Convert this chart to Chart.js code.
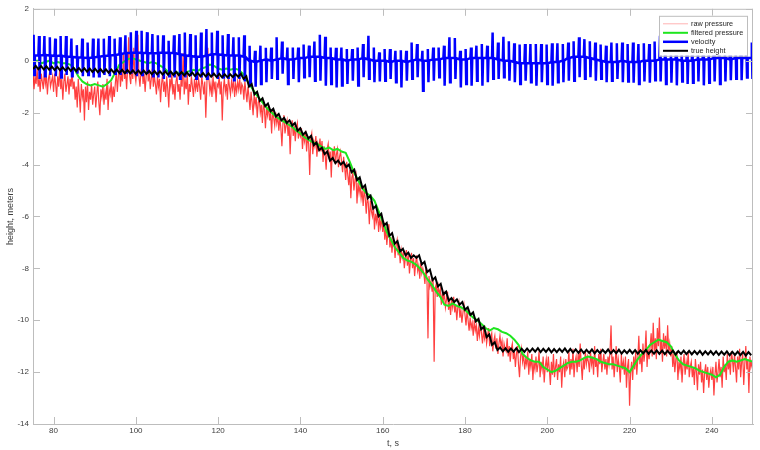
<!DOCTYPE html>
<html>
<head>
<meta charset="utf-8">
<script src="https://cdn.jsdelivr.net/npm/chart.js@4.4.0/dist/chart.umd.min.js"></script>
<style>
  html, body { margin: 0; padding: 0; background: #fff; }
</style>
</head>
<body>
<canvas id="heightChart" width="760" height="450"></canvas>
<script>
// time grid (seconds)
const T0 = 75;
const RAW_STEP = 0.25;     // raw pressure sample spacing
const FILT_STEP = 1;       // filtered pressure sample spacing
const CYCLE = 1.3125;      // ripple period of velocity / true height

const xTicks = [80, 100, 120, 140, 160, 180, 200, 220, 240];
const yTicks = [-14, -12, -10, -8, -6, -4, -2, 0, 2];

// raw pressure, t = 75, 75.25, 75.5 ... 250 (one row = 5 s)
const rawPressure = [
  -0.4, -1.1, -0.6, -0.9, -0.3, -1.0, -0.7, -1.2, -0.5, -0.8, -1.1, -0.4, -0.9, -0.6, -1.3, -0.7, -0.5, -1.0, -0.8, -0.6,
  -1.2, -0.5, -0.9, -1.4, -0.6, -1.0, -0.3, -1.1, -0.7, -1.5, -0.8, -0.5, -1.2, -0.9, -0.6, -1.3, -0.7, -1.0, -0.4, -1.1,
  -0.8, -1.5, -1.0, -1.8, -0.7, -1.3, -2.0, -0.9, -1.4, -1.1, -2.3, -1.0, -1.6, -0.8, -1.9, -1.2, -1.5, -0.9, -1.7, -1.3,
  -1.0, -1.8, -1.3, -0.8, -1.6, -2.1, -1.1, -1.4, -0.9, -1.7, -1.2, -1.5, -0.7, -1.9, -1.1, -1.3, -0.8, -1.6, -1.0, -1.4,
  -0.9, -0.4, -1.2, -0.6, -0.2, -1.0, -0.5, -0.8, 0.3, -0.7, -0.4, -1.1, -0.3, 0.9, -0.6, -0.9, -0.2, -0.7, 0.5, -0.5,
  -0.8, -0.3, 1.0, -0.6, -1.0, -0.4, -0.2, -0.9, -0.5, -1.2, -0.6, 0.4, -0.8, -0.4, -1.1, -0.7, -0.3, -1.0, -0.6, -0.9,
  -1.3, -0.6, -1.0, -0.7, -1.6, -0.9, -0.5, -1.2, -0.8, -1.4, -0.6, -1.1, -1.8, -0.7, -1.0, -0.5, -1.3, -0.9, -1.5, -0.8,
  -0.6, -1.2, -0.9, -1.5, -0.7, -1.0, 0.3, -1.3, -0.8, -1.1, -0.5, -1.7, -0.9, -1.2, -0.6, -1.0, -1.4, -0.7, -1.1, -0.8,
  -1.2, -0.7, -1.0, -1.5, -0.6, -0.9, -1.3, -0.8, -2.2, -1.0, 0.5, -0.7, -1.2, -0.9, -1.4, -0.6, -1.1, -0.8, -1.6, -0.9,
  -1.0, -0.6, -1.3, -0.8, -2.3, -1.1, -0.7, -1.2, -0.9, -1.5, -0.6, -1.0, -1.3, -0.8, -1.1, -0.7, -1.4, -0.9, -1.2, -0.8,
  -1.1, -0.7, -1.3, -0.9, -1.0, -1.5, -0.8, -1.2, -1.6, -1.0, -1.4, -1.9, -1.2, -1.6, -2.1, -1.3, -1.7, -1.4, -2.2, -1.6,
  -1.5, -2.0, -1.7, -2.4, -1.6, -1.9, -2.6, -1.8, -2.1, -1.7, -2.3, -2.0, -2.8, -1.9, -2.2, -2.5, -2.0, -2.4, -2.1, -2.7,
  -2.2, -2.6, -3.3, -2.4, -2.1, -2.8, -2.5, -2.3, -2.9, -2.4, -3.6, -2.6, -2.3, -2.9, -2.5, -3.1, -2.6, -2.4, -3.0, -2.7,
  -2.9, -2.6, -3.4, -2.8, -3.1, -2.7, -3.5, -2.9, -3.2, -4.4, -3.0, -2.8, -3.6, -3.1, -3.3, -2.9, -3.7, -3.2, -3.4, -3.0,
  -3.5, -3.1, -3.9, -3.3, -3.6, -4.2, -3.4, -3.2, -3.8, -3.5, -4.5, -3.4, -3.7, -3.3, -4.0, -3.6, -3.4, -4.1, -3.7, -3.5,
  -3.9, -4.3, -3.7, -4.1, -4.6, -3.9, -4.4, -4.8, -4.2, -5.3, -4.5, -4.3, -5.0, -4.6, -4.4, -5.5, -4.7, -5.1, -4.8, -5.3,
  -5.0, -5.6, -4.9, -5.3, -5.9, -5.2, -5.5, -6.3, -5.4, -5.8, -6.0, -5.6, -6.5, -5.9, -6.2, -5.8, -6.6, -6.1, -6.4, -6.0,
  -6.6, -6.2, -6.9, -6.4, -7.1, -6.6, -6.3, -7.2, -6.8, -7.4, -6.9, -7.0, -7.6, -7.1, -6.9, -7.5, -7.2, -7.8, -7.3, -7.6,
  -7.4, -8.0, -7.6, -7.3, -7.9, -7.5, -8.2, -7.7, -7.4, -8.0, -7.6, -8.3, -7.8, -7.5, -8.1, -7.9, -8.4, -7.8, -8.2, -8.0,
  -8.2, -8.6, -8.0, -8.4, -10.7, -8.3, -8.7, -8.5, -8.9, -8.4, -11.6, -8.8, -8.6, -9.1, -8.7, -9.0, -8.8, -9.4, -9.0, -9.2,
  -9.0, -9.5, -9.2, -8.9, -9.6, -9.3, -9.8, -9.2, -9.5, -9.1, -9.7, -9.4, -10.0, -9.5, -9.3, -9.9, -9.6, -10.1, -9.7, -9.4,
  -9.8, -10.2, -9.6, -10.0, -10.4, -9.9, -10.3, -10.1, -10.6, -10.0, -10.4, -10.2, -10.8, -10.3, -10.6, -10.1, -10.5, -10.9, -10.4, -10.7,
  -10.4, -10.9, -10.6, -10.3, -11.0, -10.7, -10.5, -11.2, -10.8, -10.6, -11.1, -10.7, -11.3, -10.9, -10.6, -11.0, -10.8, -11.4, -10.9, -11.1,
  -11.2, -10.7, -11.4, -11.0, -11.6, -11.1, -10.9, -11.5, -11.2, -11.8, -11.3, -11.0, -11.7, -12.2, -11.4, -11.1, -11.6, -11.3, -11.9, -11.5,
  -11.7, -11.2, -12.1, -11.5, -11.8, -11.3, -12.3, -11.6, -11.9, -11.4, -12.0, -11.7, -11.2, -12.2, -11.6, -11.9, -11.4, -12.4, -11.8, -11.5,
  -12.0, -11.4, -11.9, -12.5, -11.6, -12.1, -11.3, -12.2, -11.8, -11.5, -12.3, -11.7, -12.0, -11.4, -12.6, -11.8, -11.6, -12.2, -11.5, -11.9,
  -11.8, -11.2, -12.1, -11.5, -11.9, -11.1, -12.2, -11.6, -11.4, -12.0, -11.3, -11.8, -10.9, -11.7, -12.3, -11.5, -11.9, -11.2, -11.7, -11.4,
  -11.6, -12.0, -11.2, -11.7, -11.4, -12.1, -11.0, -11.8, -11.5, -12.2, -11.3, -11.7, -11.1, -12.0, -11.6, -11.3, -11.9, -11.5, -12.1, -11.4,
  -11.7, -11.2, -10.2, -11.9, -11.4, -12.2, -11.6, -11.0, -12.0, -11.5, -11.8, -12.4, -11.3, -11.9, -11.6, -12.1, -11.4, -12.6, -11.8, -11.5,
  -13.3, -12.0, -11.6, -12.3, -11.4, -11.9, -11.2, -12.1, -11.5, -10.6, -11.7, -11.3, -12.0, -10.9, -11.6, -11.2, -10.4, -11.8, -11.1, -11.5,
  -11.0, -10.5, -11.4, -10.1, -11.2, -10.7, -11.5, -10.3, -11.0, -9.9, -11.3, -10.8, -11.6, -10.5, -11.1, -10.6, -11.4, -10.2, -11.2, -10.9,
  -11.4, -11.0, -11.8, -11.3, -12.0, -11.5, -11.2, -12.3, -11.6, -11.9, -11.4, -12.4, -11.7, -11.3, -12.1, -11.6, -11.9, -11.2, -12.2, -11.8,
  -11.6, -12.2, -11.8, -12.5, -11.5, -12.0, -12.7, -11.7, -12.1, -11.6, -12.4, -11.9, -12.8, -12.0, -11.7, -12.3, -11.8, -12.6, -12.1, -11.9,
  -12.3, -11.8, -12.9, -12.1, -11.6, -12.4, -12.0, -11.5, -12.2, -11.8, -12.6, -11.4, -12.0, -11.7, -12.3, -11.3, -11.9, -11.6, -12.1, -11.2,
  -11.5, -12.0, -11.3, -11.8, -12.4, -11.4, -11.9, -11.1, -12.2, -11.6, -11.3, -12.5, -11.7, -11.0, -11.9, -11.5, -12.8, -11.4, -11.8, -11.6,
  -12.0
];

// filtered pressure, t = 75, 76 ... 250
const filteredPressure = [
  -0.05, 0.0, -0.1, -0.05, 0.0, -0.1, -0.05, -0.1, -0.1, -0.15,
  -0.3, -0.6, -0.8, -0.9, -0.95, -0.9, -0.95, -1.0, -0.9, -0.75,
  -0.45, -0.15, -0.05, 0.05, 0.1, 0.05, 0.0, -0.05, -0.1, -0.05,
  -0.1, -0.2, -0.3, -0.45, -0.5, -0.45, -0.5, -0.45, -0.4, -0.35,
  -0.4, -0.3, -0.25, -0.15, -0.2, -0.3, -0.35, -0.3, -0.35, -0.3,
  -0.35, -0.5, -0.75, -1.0, -1.25, -1.45, -1.65, -1.85, -2.0, -2.15,
  -2.25, -2.35, -2.45, -2.55, -2.7, -2.8, -2.95, -3.05, -3.15, -3.2,
  -3.3, -3.4, -3.35, -3.45, -3.4, -3.5, -3.55, -3.9, -4.3, -4.6,
  -4.9, -5.1, -5.2, -5.4, -5.8, -6.2, -6.6, -6.9, -7.2, -7.4,
  -7.6, -7.7, -7.75, -7.85, -8.0, -8.2, -8.45, -8.65, -8.9, -9.1,
  -9.4, -9.45, -9.35, -9.45, -9.5, -9.6, -9.75, -9.9, -10.0, -10.15,
  -10.3, -10.4, -10.3, -10.35, -10.45, -10.5, -10.6, -10.75, -10.95, -11.3,
  -11.45, -11.55, -11.6, -11.6, -11.8, -11.9, -12.0, -11.95, -11.85, -11.75,
  -11.65, -11.6, -11.6, -11.55, -11.45, -11.4, -11.45, -11.5, -11.6, -11.65,
  -11.7, -11.7, -11.75, -11.8, -11.85, -12.0, -11.75, -11.5, -11.3, -11.15,
  -10.95, -10.85, -10.75, -10.8, -10.85, -11.0, -11.3, -11.55, -11.7, -11.75,
  -11.8, -11.85, -11.95, -12.0, -12.05, -12.1, -12.2, -12.1, -11.8, -11.6,
  -11.55, -11.6, -11.55, -11.5, -11.55, -11.6
];

// velocity, one entry per ripple cycle: resting level, upper spike, lower spike
const velBase = [
  0.2, 0.2, 0.22, 0.2, 0.18, 0.2, 0.15, 0.15, 0.12, 0.12, 0.1,
  0.12, 0.15, 0.18, 0.2, 0.22, 0.25,
  0.3, 0.3, 0.32, 0.3, 0.3, 0.28, 0.3, 0.32, 0.3, 0.3, 0.25, 0.2, 0.18, 0.15, 0.15, 0.2, 0.25,
  0.25, 0.22, 0.2, 0.2, 0.2, 0.15,
  0.0, -0.05, 0.0, 0.05, 0.0, 0.05, 0.1, 0.05, 0.05, 0.1, 0.1, 0.15, 0.15, 0.15, 0.1, 0.1, 0.05, 0.05, 0.0, 0.05, 0.05, 0.1, 0.05, 0.0, 0.0,
  0.0, -0.05, 0.0, 0.0, -0.05, 0.0, 0.05, 0.0, 0.0, 0.05, 0.05, 0.1, 0.1, 0.1, 0.05, 0.05, 0.1, 0.1, 0.1, 0.1, 0.1,
  0.05, 0.0, 0.0, -0.05, -0.1, -0.1, -0.1, -0.1, -0.1, -0.1, -0.05, -0.05, 0.0, 0.1, 0.15, 0.15, 0.15, 0.1, 0.05, 0.0, -0.05, -0.05, -0.05, 0.0,
  -0.05, -0.05, -0.05, 0.0, 0.0, 0.0, 0.05, 0.05, 0.05, 0.05, 0.0, 0.0, 0.0, 0.05, 0.05, 0.05, 0.1, 0.1, 0.1, 0.05, 0.1, 0.1, 0.1, 0.1
];
const velPeak = [
  1.0, 0.95, 0.95, 0.9, 0.85, 0.95, 0.95, 0.85, 0.6, 0.85, 0.7, 0.85, 0.85, 0.85, 0.95, 0.85, 0.9, 0.98, 1.1, 1.15, 1.15, 1.1,
  1.03, 0.98, 0.98, 0.77, 0.98, 1.03, 1.09, 1.03, 0.98, 1.09, 1.22, 1.09, 1.15, 0.98, 1.03, 0.9, 0.9, 0.98, 0.58, 0.38, 0.58,
  0.5, 0.51, 0.9, 0.74, 0.51, 0.51, 0.51, 0.62, 0.58, 0.74, 1.0, 0.92, 0.51, 0.5, 0.51, 0.45, 0.45, 0.51, 0.64, 0.96, 0.51, 0.32,
  0.45, 0.45, 0.38, 0.4, 0.38, 0.7, 0.64, 0.38, 0.45, 0.51, 0.51, 0.58, 0.9, 0.87, 0.38, 0.45, 0.51, 0.58, 0.64, 0.58, 1.09,
  0.7, 0.92, 0.75, 0.67, 0.62, 0.64, 0.64, 0.64, 0.64, 0.62, 0.67, 0.67, 0.64, 0.7, 0.75, 0.9, 0.83, 0.75, 0.7, 0.62, 0.58, 0.7, 0.67, 0.7,
  0.64, 0.7, 0.64, 0.67, 0.64, 0.74, 0.96, 0.7, 0.65, 0.72, 0.6, 0.68, 0.7, 0.62, 0.66, 0.7, 0.64, 0.6, 0.68, 0.62, 0.66, 0.95, 0.5, 0.7
];
const velTrough = [
  -0.55, -0.7, -0.6, -0.55, -0.6, -0.65, -0.55, -0.6, -0.5, -0.6, -0.55, -0.65, -0.6, -0.55, -0.6, -0.5, -0.55, -0.45, -0.5, -0.6, -0.55, -0.5,
  -0.6, -0.65, -0.7, -0.6, -0.65, -0.7, -0.65, -0.6, -0.7, -0.65, -0.7, -0.6, -0.7, -0.65, -0.7, -0.75, -0.7, -0.8,
  -0.95, -1.0, -0.9,
  -0.83, -0.7, -0.7, -0.5, -0.9, -0.7, -0.83, -0.64, -0.64, -0.77, -0.77, -0.96, -0.9, -1.03, -0.96, -0.9, -0.77, -0.96, -0.64, -0.7, -0.83, -0.8,
  -0.77, -0.7, -0.83, -1.03, -0.77, -0.7, -0.64, -1.16, -0.83, -0.77, -0.64, -0.96, -0.83, -0.7, -1.03, -0.9, -0.96, -0.77, -0.96, -0.83, -0.7,
  -0.7, -0.64, -0.77, -0.83, -0.9, -0.77, -0.83, -0.96, -0.83, -0.9, -0.96, -0.83, -0.83, -0.77, -0.77, -0.64, -0.7, -0.64, -0.77, -0.7, -0.83, -0.77, -0.7, -0.83,
  -0.8, -0.85, -0.9, -0.8, -0.85, -0.75, -0.8, -0.9, -0.85, -0.95, -0.8, -0.9, -0.85, -0.8, -0.95, -0.85, -0.8, -0.9, -0.8, -0.75, -0.7, -0.75, -0.65, -0.7
];

// true height, per ripple cycle: step level and the small bump after it
const heightBase = [
  -0.32, -0.33, -0.34, -0.35, -0.36, -0.37, -0.38, -0.39, -0.40, -0.41, -0.42, -0.43, -0.44, -0.45, -0.46, -0.46, -0.47, -0.48, -0.49, -0.50,
  -0.50, -0.51, -0.52, -0.53, -0.53, -0.54, -0.55, -0.56, -0.57, -0.58, -0.59, -0.60, -0.61, -0.62, -0.63, -0.64, -0.64, -0.63, -0.62,
  -0.70, -1.0, -1.3, -1.55, -1.75, -1.95, -2.15, -2.3, -2.4, -2.5, -2.7, -2.85, -3.0, -3.25, -3.45, -3.6, -3.85, -3.95, -4.0, -4.1,
  -4.3, -4.6, -4.9, -5.3, -5.7, -6.0, -6.35, -6.75, -7.05, -7.35, -7.5, -7.6, -7.6, -7.85, -8.15, -8.45, -8.7, -9.0, -9.25, -9.3,
  -9.4, -9.6, -9.8, -10.05, -10.35, -10.65, -10.95, -11.15, -11.2,
  -11.22, -11.21, -11.23, -11.22, -11.22, -11.21, -11.23, -11.22, -11.24, -11.23, -11.22, -11.24, -11.25,
  -11.26, -11.27, -11.26, -11.28, -11.27, -11.26, -11.28, -11.27, -11.29, -11.27, -11.28, -11.29, -11.28, -11.30, -11.29,
  -11.3, -11.31, -11.3, -11.32, -11.3, -11.31, -11.32, -11.31, -11.33, -11.32,
  -11.33, -11.34, -11.33, -11.35, -11.34, -11.35, -11.36, -11.35
];
const heightPeak = [
  -0.20, -0.21, -0.22, -0.23, -0.24, -0.25, -0.26, -0.27, -0.28, -0.29, -0.30, -0.31, -0.32, -0.33, -0.34, -0.34, -0.35, -0.36, -0.37, -0.38,
  -0.38, -0.39, -0.40, -0.41, -0.41, -0.42, -0.43, -0.44, -0.45, -0.46, -0.47, -0.48, -0.49, -0.50, -0.51, -0.52, -0.52, -0.51, -0.50,
  -0.60, -0.90, -1.20, -1.45, -1.65, -1.85, -2.05, -2.20, -2.30, -2.40, -2.60, -2.75, -2.90, -3.15, -3.35, -3.50, -3.75, -3.85, -3.90, -4.00,
  -4.20, -4.50, -4.80, -5.20, -5.60, -5.90, -6.25, -6.65, -6.95, -7.25, -7.40, -7.50, -7.50, -7.75, -8.05, -8.35, -8.60, -8.90, -9.15, -9.20,
  -9.30, -9.50, -9.70, -9.95, -10.25, -10.55, -10.85, -11.05, -11.08,
  -11.09, -11.08, -11.10, -11.09, -11.09, -11.08, -11.10, -11.09, -11.11, -11.10, -11.09, -11.11, -11.12,
  -11.13, -11.14, -11.13, -11.15, -11.14, -11.13, -11.15, -11.14, -11.16, -11.14, -11.15, -11.16, -11.15, -11.17, -11.16,
  -11.17, -11.18, -11.17, -11.19, -11.17, -11.18, -11.19, -11.18, -11.20, -11.19,
  -11.20, -11.21, -11.20, -11.22, -11.21, -11.22, -11.23
];

// build {x, y} points
const sampled = (values, step) => values.map((v, i) => ({ x: T0 + i * step, y: v }));

// each velocity cycle: rest, quick spike up, quick spike down, back to rest
const velocityPts = [];
velBase.forEach((b, k) => {
  const t = T0 + k * CYCLE;
  velocityPts.push({ x: t, y: b });
  velocityPts.push({ x: t + 0.15, y: velPeak[k] });
  velocityPts.push({ x: t + 0.3, y: velTrough[k] });
  velocityPts.push({ x: t + 0.45, y: b });
});

const heightPts = [];
heightBase.forEach((b, k) => {
  const t = T0 + k * CYCLE;
  heightPts.push({ x: t, y: b });
  if (k < heightPeak.length) heightPts.push({ x: t + CYCLE / 2, y: heightPeak[k] });
});

const FONT = "'Liberation Sans', Arial, sans-serif";
const TXT = '#404040';
const AXIS = '#bdbdbd';

// box, inward ticks on all sides, legend in the upper right corner
const matlabFrame = {
  id: 'matlabFrame',
  afterDatasetsDraw(chart) {
    const { ctx, chartArea: a, scales: { x, y } } = chart;
    ctx.save();
    ctx.strokeStyle = AXIS;
    ctx.lineWidth = 1;
    ctx.beginPath();
    ctx.moveTo(a.left, a.top + 0.5); ctx.lineTo(a.right, a.top + 0.5);
    ctx.moveTo(a.right - 0.5, a.top); ctx.lineTo(a.right - 0.5, a.bottom);
    x.ticks.forEach(t => {
      const px = Math.round(x.getPixelForValue(t.value)) + 0.5;
      ctx.moveTo(px, a.bottom); ctx.lineTo(px, a.bottom - 7);
      ctx.moveTo(px, a.top); ctx.lineTo(px, a.top + 7);
    });
    y.ticks.forEach(t => {
      const py = Math.round(y.getPixelForValue(t.value)) + 0.5;
      ctx.moveTo(a.left, py); ctx.lineTo(a.left + 7, py);
      ctx.moveTo(a.right, py); ctx.lineTo(a.right - 7, py);
    });
    ctx.stroke();

    // legend
    const bx = a.right - 94, by = a.top + 7, bw = 88, bh = 40;
    ctx.fillStyle = '#fff';
    ctx.fillRect(bx, by, bw, bh);
    ctx.strokeStyle = AXIS;
    ctx.strokeRect(bx + 0.5, by + 0.5, bw, bh);
    ctx.font = '7.3px ' + FONT;
    ctx.textBaseline = 'middle';
    chart.data.datasets.forEach((ds, i) => {
      const ly = by + 8 + i * 9;
      ctx.strokeStyle = ds.legendColor || ds.borderColor;
      ctx.lineWidth = ds.legendWidth || ds.borderWidth;
      ctx.beginPath();
      ctx.moveTo(bx + 4, ly); ctx.lineTo(bx + 29, ly);
      ctx.stroke();
      ctx.fillStyle = '#262626';
      ctx.fillText(ds.label, bx + 32, ly + 0.5);
    });
    ctx.restore();
  }
};

const ctx = document.getElementById('heightChart').getContext('2d');
const heightChart = new Chart(ctx, {
  type: 'line',
  data: {
    datasets: [
      { label: 'raw pressure', data: sampled(rawPressure, RAW_STEP), borderColor: 'rgba(255,0,0,0.75)', legendColor: 'rgba(255,0,0,0.3)', legendWidth: 1, borderWidth: 1.2, order: 4 },
      { label: 'filtered pressure', data: sampled(filteredPressure, FILT_STEP), borderColor: '#1ee61e', borderWidth: 2, order: 3 },
      { label: 'velocity', data: velocityPts, borderColor: '#0000ff', borderWidth: 2.5, order: 2 },
      { label: 'true height', data: heightPts, borderColor: '#000000', borderWidth: 2, order: 1 }
    ]
  },
  options: {
    responsive: false,
    animation: false,
    devicePixelRatio: 1,
    parsing: false,
    layout: { padding: { top: 8, right: 7, left: 0, bottom: 0 } },
    elements: { point: { radius: 0 }, line: { tension: 0, fill: false } },
    plugins: { legend: { display: false }, tooltip: { enabled: false } },
    scales: {
      x: {
        type: 'linear', min: 75, max: 250,
        afterBuildTicks: s => { s.ticks = xTicks.map(v => ({ value: v })); },
        afterFit: s => { s.height = 26; },
        grid: { display: false, drawTicks: false },
        border: { color: AXIS, width: 1 },
        ticks: { padding: 2, maxRotation: 0, autoSkip: false, color: TXT, font: { family: FONT, size: 8 } },
        title: { display: true, text: 't, s', color: TXT, padding: { top: 0, bottom: 1 }, font: { family: FONT, size: 9 } }
      },
      y: {
        type: 'linear', min: -14, max: 2,
        afterBuildTicks: s => { s.ticks = yTicks.map(v => ({ value: v })); },
        afterFit: s => { s.width = 33; },
        grid: { display: false, drawTicks: false },
        border: { color: AXIS, width: 1 },
        ticks: { padding: 4, autoSkip: false, color: TXT, font: { family: FONT, size: 8 } },
        title: { display: true, text: 'height, meters', color: TXT, padding: { top: 5, bottom: 0 }, font: { family: FONT, size: 9 } }
      }
    }
  },
  plugins: [matlabFrame]
});
</script>
</body>
</html>
